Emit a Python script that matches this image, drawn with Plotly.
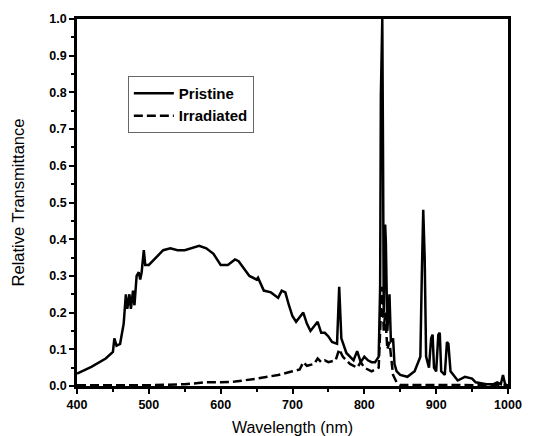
import plotly.graph_objects as go

# Pristine sample
wl_pristine = [400, 420, 440, 450, 452, 455, 460, 462, 465, 468, 470, 473, 475, 478, 480,
               483, 486, 488, 490, 493, 495, 500, 510, 520, 530, 540, 550, 560, 570, 580,
               590, 600, 610, 620, 625, 640, 650, 652, 660, 670, 680, 685, 690, 695, 700,
               705, 715, 720, 725, 735, 740, 745, 750, 755, 762, 765, 768, 775, 785, 790,
               795, 800, 805, 810, 815, 820, 822, 823, 824, 825, 826, 827, 829, 830, 832,
               835, 837, 840, 842, 845, 850, 860, 870, 878, 880, 882, 884, 886, 890, 893,
               895, 897, 900, 903, 905, 907, 912, 915, 917, 920, 930, 940, 950, 955, 970,
               980, 985, 990, 993, 996, 1000]
t_pristine = [0.034, 0.052, 0.075, 0.093, 0.13, 0.11, 0.115, 0.14, 0.17, 0.25, 0.21, 0.25, 0.21, 0.26, 0.22,
              0.30, 0.31, 0.29, 0.31, 0.37, 0.33, 0.33, 0.35, 0.37, 0.375, 0.37, 0.37, 0.375, 0.382, 0.375,
              0.36, 0.33, 0.33, 0.345, 0.34, 0.30, 0.29, 0.295, 0.26, 0.255, 0.24, 0.26, 0.255, 0.22, 0.19,
              0.175, 0.20, 0.17, 0.15, 0.175, 0.145, 0.145, 0.135, 0.12, 0.115, 0.27, 0.13, 0.09, 0.07, 0.095,
              0.065, 0.08, 0.07, 0.065, 0.065, 0.08, 0.27, 0.79, 1.0, 1.0, 0.64, 0.2, 0.44, 0.39, 0.15,
              0.25, 0.12, 0.13, 0.06, 0.04, 0.03, 0.025, 0.04, 0.08, 0.30, 0.48, 0.35, 0.08, 0.05, 0.13,
              0.14, 0.05, 0.04, 0.14, 0.145, 0.04, 0.03, 0.12, 0.115, 0.04, 0.015, 0.025, 0.02, 0.01, 0.005,
              0.005, 0.01, 0.005, 0.03, 0.005, 0.0]

# Irradiated sample
wl_irradiated = [400, 500, 550, 580, 600, 620, 650, 680, 700, 710, 715, 720, 730, 735, 740,
                 745, 750, 760, 765, 770, 780, 790, 795, 800, 810, 820, 823, 825, 827, 829,
                 832, 835, 840, 845, 850, 900, 1000]
t_irradiated = [0.002, 0.002, 0.005, 0.01, 0.01, 0.012, 0.02, 0.03, 0.04, 0.045, 0.065, 0.055, 0.06, 0.075, 0.065,
                0.07, 0.065, 0.07, 0.1, 0.08, 0.06, 0.05, 0.065, 0.05, 0.04, 0.05, 0.2, 0.27, 0.15, 0.2,
                0.1, 0.12, 0.03, 0.01, 0.003, 0.002, 0.002]

fig = go.Figure()
fig.add_trace(go.Scatter(x=wl_pristine, y=t_pristine, mode='lines', name='Pristine',
                         line=dict(color='black', width=2.5)))
fig.add_trace(go.Scatter(x=wl_irradiated, y=t_irradiated, mode='lines', name='Irradiated',
                         line=dict(color='black', width=2.5, dash='9px,4px')))

axis_style = dict(showline=True, linecolor='black', linewidth=2.5, mirror=True,
                  showgrid=False, zeroline=False, ticks='outside', ticklen=5,
                  tickwidth=2, tickcolor='black', automargin=False,
                  tickfont=dict(family='Liberation Sans', size=12.5, color='black', weight='bold'))

fig.update_xaxes(range=[400, 1000], dtick=100,
                 minor=dict(ticks='outside', dtick=50, ticklen=3, tickwidth=2, tickcolor='black'),
                 title=dict(text='Wavelength (nm)', standoff=14,
                            font=dict(family='Liberation Sans', size=16, color='black')),
                 **axis_style)
fig.update_yaxes(range=[0, 1.0], dtick=0.1, tickformat='.1f',
                 minor=dict(ticks='outside', dtick=0.05, ticklen=3, tickwidth=2, tickcolor='black'),
                 title=dict(text='Relative Transmittance', standoff=21,
                            font=dict(family='Liberation Sans', size=16.5, color='black')),
                 **axis_style)

# page body adds an 8px margin, so the figure is sized to fit the window
fig.update_layout(
    width=537, height=428,
    margin=dict(l=69, r=37, t=11, b=50),
    plot_bgcolor='white', paper_bgcolor='white',
    legend=dict(x=0.118, y=0.845, xanchor='left', yanchor='top',
                bordercolor='#666', borderwidth=1, bgcolor='white', itemwidth=40,
                font=dict(family='Liberation Sans', size=15, color='black', weight='bold'),
                tracegroupgap=0),
)

fig.write_html("out.html")
